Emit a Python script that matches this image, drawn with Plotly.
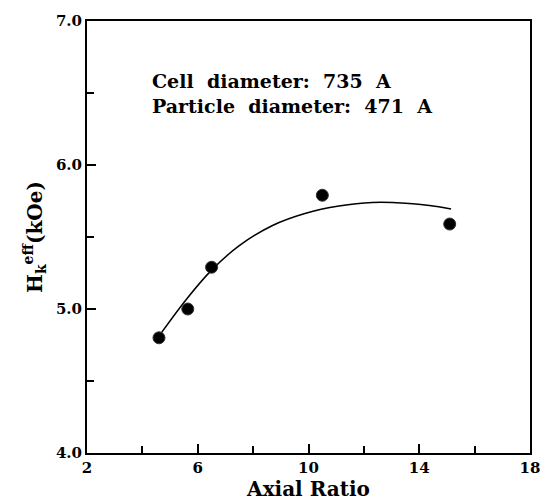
import plotly.graph_objects as go

# Measured data points
axial_ratio = [4.6, 5.64, 6.5, 10.5, 15.1]
hk_eff = [4.80, 5.00, 5.29, 5.79, 5.59]

# Fitted curve
curve_x = [4.69, 5.6, 6.5, 7.5, 8.7, 9.9, 11.1, 12.3, 13.5, 14.7, 15.15]
curve_y = [4.836, 5.07, 5.27, 5.44, 5.58, 5.665, 5.715, 5.74, 5.735, 5.71, 5.695]

x_ticks = [2, 6, 10, 14, 18]
y_ticks = [4.0, 5.0, 6.0, 7.0]
x_minor = [4, 8, 12, 16]
y_minor = [4.5, 5.5, 6.5]

note_lines = ["Cell diameter: 735 A", "Particle diameter: 471 A"]

font_family = "DejaVu Serif"

fig = go.Figure()
fig.add_trace(go.Scatter(x=curve_x, y=curve_y, mode="lines",
                         line=dict(color="black", width=1.5, shape="spline", smoothing=1.0),
                         showlegend=False))
fig.add_trace(go.Scatter(x=axial_ratio, y=hk_eff, mode="markers",
                         marker=dict(color="black", size=12, symbol="circle",
                                     line=dict(color="#333", width=1)), showlegend=False))

note_text = "<br>".join(line.replace(" ", "\u00a0\u00a0") for line in note_lines)
fig.add_annotation(x=0.142, y=0.833, xref="paper", yref="paper",
                   xanchor="left", yanchor="middle",
                   text=note_text, showarrow=False, align="left",
                   font=dict(family=font_family, size=19, color="black", weight="bold"))

fig.update_xaxes(range=[2, 18], tickvals=x_ticks, ticktext=[str(v) for v in x_ticks],
                 ticks="inside", ticklen=9, tickwidth=1.5, tickcolor="black",
                 minor=dict(tickvals=x_minor, ticks="inside", ticklen=7, tickwidth=1.5, tickcolor="black"),
                 showline=True, linecolor="black", linewidth=2, mirror=True, showgrid=False, zeroline=False,
                 tickfont=dict(family=font_family, size=15, color="black", weight="bold"),
                 title=dict(text="Axial Ratio", standoff=0,
                            font=dict(family=font_family, size=20, color="black", weight="bold")))
fig.update_yaxes(range=[4.0, 7.0], tickvals=y_ticks, ticktext=[f"{v:.1f}" for v in y_ticks],
                 ticks="inside", ticklen=9, tickwidth=1.5, tickcolor="black",
                 minor=dict(tickvals=y_minor, ticks="inside", ticklen=7, tickwidth=1.5, tickcolor="black"),
                 showline=True, linecolor="black", linewidth=2, mirror=True, showgrid=False, zeroline=False,
                 tickfont=dict(family=font_family, size=15, color="black", weight="bold"),
                 title=dict(text="H<sub>k</sub><sup>eff</sup>(kOe)", standoff=8,
                            font=dict(family=font_family, size=20, color="black", weight="bold")))

fig.update_layout(width=552, height=503, margin=dict(l=87, r=21, t=14, b=44),
                  paper_bgcolor="white", plot_bgcolor="white")

fig.write_html("out.html")
